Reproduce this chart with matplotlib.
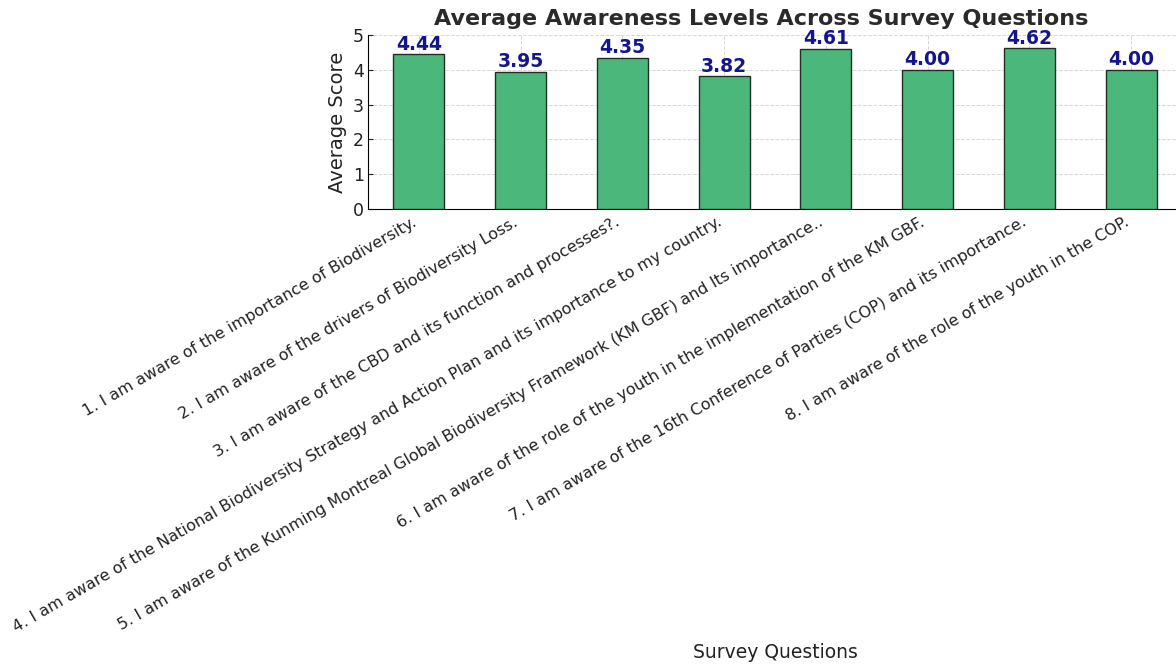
import matplotlib
matplotlib.use("Agg")
import matplotlib.pyplot as plt
import numpy as np

questions = [
    "1. I am aware of the importance of Biodiversity.",
    "2. I am aware of the drivers of Biodiversity Loss.",
    "3. I am aware of the CBD and its function and processes?.",
    "4. I am aware of the National Biodiversity Strategy and Action Plan and its importance to my country.",
    "5. I am aware of the Kunming Montreal Global Biodiversity Framework (KM GBF) and Its importance..",
    "6. I am aware of the role of the youth in the implementation of the KM GBF.",
    "7. I am aware of the 16th Conference of Parties (COP) and its importance.",
    "8. I am aware of the role of the youth in the COP.",
]
scores = [4.44, 3.95, 4.35, 3.82, 4.61, 4.00, 4.62, 4.00]

fig = plt.figure(figsize=(11.76, 6.66), dpi=100)
ax = fig.add_axes([368/1176, 1 - 209/666, (1182-368)/1176, (209-35)/666])

x = np.arange(len(questions))
ax.bar(x, scores, width=0.5, color="#4cb77b", edgecolor="#1f2f25", linewidth=1.0, zorder=3)
for xi, v in zip(x, scores):
    ax.text(xi, v + 0.01, f"{v:.2f}", ha="center", va="bottom", fontsize=13.5,
            fontweight="bold", color="#14148c", zorder=4)

ax.set_xlim(-0.5, 7.5)
ax.set_ylim(0, 5)
ax.set_yticks([0, 1, 2, 3, 4, 5])
ax.set_xticks(x)
ax.set_xticklabels(questions, rotation=30, ha="right", fontsize=11.5, color="#222222")
ax.tick_params(axis="y", labelsize=12.5, direction="in", colors="#222222", pad=3)
ax.tick_params(axis="x", direction="in", pad=4)
ax.grid(True, linestyle="--", color="#cccccc", linewidth=0.7, alpha=0.8, zorder=0)
ax.spines["top"].set_visible(False)
ax.spines["right"].set_visible(False)
ax.set_ylabel("Average Score", fontsize=14, color="#222222", labelpad=4)
ax.set_title("Average Awareness Levels Across Survey Questions", fontsize=16,
             fontweight="bold", color="#2a2a2a", pad=7, x=0.4834)
fig.text(775/1176, 1 - 653/666, "Survey Questions", ha="center", va="center",
         fontsize=13.5, color="#222222")

fig.savefig("out.png", dpi=100)
